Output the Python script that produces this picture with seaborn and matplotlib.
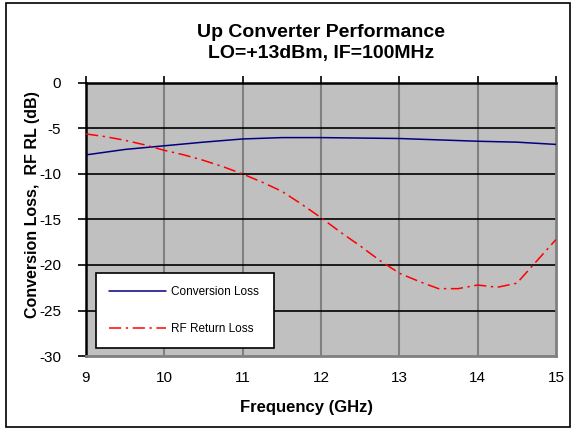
import matplotlib
matplotlib.use("Agg")
import matplotlib.pyplot as plt
from matplotlib.patches import Rectangle
import seaborn as sns
import pandas as pd

sns.set_theme(style="white")
plt.rcParams['font.family'] = ['Liberation Sans', 'DejaVu Sans']
plt.rcParams['text.color'] = 'black'
plt.rcParams['axes.labelcolor'] = 'black'
plt.rcParams['xtick.color'] = 'black'
plt.rcParams['ytick.color'] = 'black'

freq_cl = [9.0, 9.5, 10.0, 10.5, 11.0, 11.5, 12.0, 12.5, 13.0, 13.5, 14.0, 14.5, 15.0]
conv_loss = [-7.9, -7.3, -6.9, -6.5, -6.15, -6.0, -6.0, -6.05, -6.1, -6.25, -6.4, -6.5, -6.75]

freq_rl = [9.0, 9.25, 9.5, 9.75, 10.0, 10.25, 10.5, 10.75, 11.0, 11.25, 11.5, 11.75, 12.0,
           12.25, 12.5, 12.75, 13.0, 13.25, 13.5, 13.75, 14.0, 14.25, 14.5, 14.75, 15.0]
rf_rl = [-5.6, -5.9, -6.3, -6.8, -7.4, -7.9, -8.5, -9.2, -10.0, -10.9, -11.9, -13.3, -14.8,
         -16.4, -17.9, -19.5, -20.9, -21.8, -22.6, -22.6, -22.2, -22.45, -22.0, -19.6, -17.2]

x_ticks = [9, 10, 11, 12, 13, 14, 15]
y_ticks = [0, -5, -10, -15, -20, -25, -30]

df_cl = pd.DataFrame({"Frequency": freq_cl, "Value": conv_loss})
df_rl = pd.DataFrame({"Frequency": freq_rl, "Value": rf_rl})

fig = plt.figure(figsize=(5.77, 4.30), dpi=100)
ax = fig.add_axes([86/577, 1-356/430, 470/577, 273/430])
ax.set_facecolor('#C0C0C0')

# grid
for xv in x_ticks[1:-1]:
    ax.axvline(xv, color='#808080', lw=1.5, zorder=1)
for yv in y_ticks[1:-1]:
    ax.axhline(yv, color='black', lw=1.2, zorder=1)

sns.lineplot(data=df_cl, x="Frequency", y="Value", ax=ax, color='#000080', lw=1.1,
             label='Conversion Loss', zorder=3)
sns.lineplot(data=df_rl, x="Frequency", y="Value", ax=ax, color='#FF0000', lw=1.1,
             linestyle=(0, (8, 3, 1.5, 3)), label='RF Return Loss', zorder=3)

ax.set_xlim(9, 15)
ax.set_ylim(-30, 0)
ax.set_xticks(x_ticks)
ax.set_yticks(y_ticks)
ax.set_xticklabels([str(v) for v in x_ticks], fontsize=11)
ax.set_yticklabels([str(v) for v in y_ticks], fontsize=11)

for s in ['left', 'top']:
    ax.spines[s].set_color('black')
    ax.spines[s].set_linewidth(1.8)
for s in ['right', 'bottom']:
    ax.spines[s].set_color('#808080')
    ax.spines[s].set_linewidth(2)

ax.tick_params(axis='x', bottom=False, top=True, labelbottom=True, labeltop=False,
               direction='out', length=5, width=1.2, color='black', pad=6)
ax.tick_params(axis='y', left=True, direction='out', length=6, width=1.2, color='black', pad=12)

ax.set_xlabel('Frequency (GHz)', fontsize=12, fontweight='bold')
ax.set_ylabel('Conversion Loss,  RF RL (dB)', fontsize=11.5, fontweight='bold')
ax.yaxis.set_label_coords((40-86)/470, (356-205)/273)
ax.xaxis.set_label_coords((307-86)/470, (356-400)/273)

leg = ax.legend(loc='lower left', bbox_to_anchor=(0.021, 0.029, 0.379, 0.268), mode='expand',
                fontsize=8.5, frameon=True, fancybox=False, edgecolor='black', framealpha=1,
                labelspacing=2.1, handlelength=4.8, handletextpad=0.45,
                borderaxespad=0, borderpad=1.1)
leg.get_frame().set_linewidth(1.2)
leg.get_frame().set_facecolor('white')
for t in leg.get_texts():
    t.set_color('black')

fig.text(321/577, 1-43/430, 'Up Converter Performance\nLO=+13dBm, IF=100MHz',
         ha='center', va='center', fontsize=14, fontweight='bold', linespacing=1.25)

fig.patches.append(Rectangle((6/577, 3/430), 564/577, 424/430, transform=fig.transFigure,
                             fill=False, edgecolor='black', lw=1.2))

fig.savefig('out.png', dpi=100)
